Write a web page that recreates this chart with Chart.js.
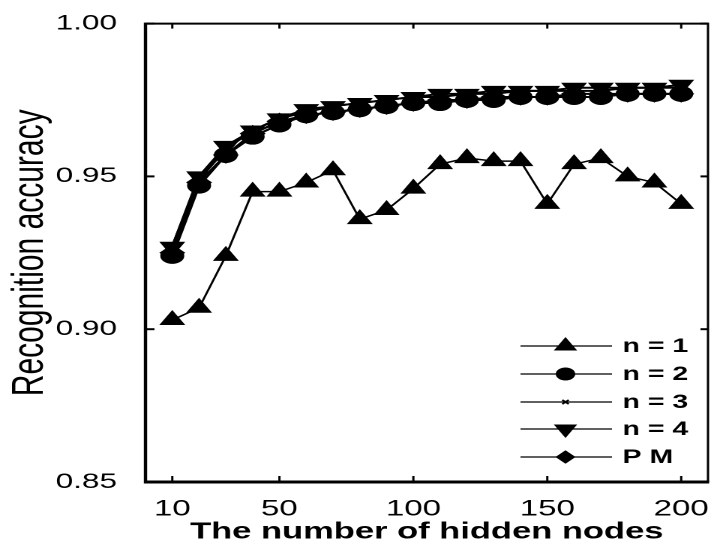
<!DOCTYPE html>
<html><head><meta charset="utf-8">
<script src="https://cdn.jsdelivr.net/npm/chart.js@4"></script>
<style>
html,body{margin:0;padding:0;background:#fff;overflow:hidden}
#wrap{width:723px;height:546px;overflow:hidden;position:relative}
#c{position:absolute;left:0;top:0;transform-origin:0 0;transform:scaleX(1.5)}
</style>
</head><body>
<div id="wrap"><canvas id="c" width="482" height="546"></canvas></div>
<script>
const hiddenNodes = [10,20,30,40,50,60,70,80,90,100,110,120,130,140,150,160,170,180,190,200];
const accN1 = [0.903,0.907,0.924,0.945,0.945,0.948,0.952,0.936,0.939,0.946,0.954,0.956,0.955,0.955,0.941,0.954,0.956,0.950,0.948,0.941];
const accN2 = [0.924,0.947,0.957,0.963,0.967,0.970,0.971,0.972,0.973,0.974,0.974,0.975,0.975,0.976,0.976,0.976,0.976,0.977,0.977,0.977];
const accN3 = [0.927,0.949,0.959,0.965,0.969,0.971,0.973,0.974,0.975,0.976,0.976,0.977,0.977,0.978,0.978,0.978,0.978,0.979,0.979,0.979];
const accN4 = [0.927,0.950,0.960,0.965,0.969,0.972,0.973,0.974,0.975,0.976,0.977,0.977,0.978,0.978,0.978,0.979,0.979,0.979,0.979,0.980];
const accPM = [0.925,0.948,0.957,0.964,0.968,0.970,0.971,0.972,0.973,0.974,0.975,0.975,0.976,0.976,0.976,0.977,0.977,0.977,0.977,0.977];
const seriesLabels = ['n = 1','n = 2','n = 3','n = 4','P M'];
const xTickValues = [10,50,100,150,200];
const yTickValues = [0.85,0.90,0.95,1.00];

const FONT = "'Liberation Sans', Arial, Helvetica, sans-serif";
const pts = arr => arr.map((v,i)=>({x:hiddenNodes[i], y:v}));

function ds(label, data, style, radius, width, rotation){
  return {label, data: pts(data), borderColor:'#000', backgroundColor:'#000',
    borderWidth: width, pointStyle: style, pointRadius: radius, pointHoverRadius: radius,
    pointRotation: rotation||0, pointBorderWidth: 1, pointBorderColor:'#000', pointBackgroundColor:'#000', tension:0};
}
const datasets = [
  ds(seriesLabels[0], accN1, 'triangle', 9, 1.5),
  ds(seriesLabels[1], accN2, 'circle', 7.5, 2),
  ds(seriesLabels[2], accN3, 'crossRot', 4, 2),
  ds(seriesLabels[3], accN4, 'triangle', 9, 2, 180),
  ds(seriesLabels[4], accPM, 'rectRot', 8, 2)
];
datasets[2].pointBorderWidth = 1.5;

function seg(ctx,x1,y1,x2,y2){ctx.beginPath();ctx.moveTo(x1,y1);ctx.lineTo(x2,y2);ctx.stroke();}

const framePlugin = {
  id:'frame',
  afterDatasetsDraw(chart){
    const {ctx, chartArea:{left,right,top,bottom}, scales:{x,y}} = chart;
    ctx.save();
    ctx.strokeStyle='#000';
    ctx.lineCap='butt';
    ctx.lineWidth=2; seg(ctx,left,top,right,top);
    ctx.lineWidth=1.5; seg(ctx,right,top-1,right,bottom);
    ctx.lineWidth=2.2; seg(ctx,left,top-1,left,bottom+1.5);
    ctx.lineWidth=3; seg(ctx,left-1,bottom,right+0.75,bottom);
    ctx.lineWidth=1.5;
    xTickValues.forEach(v=>{const px=x.getPixelForValue(v); seg(ctx,px,top,px,top+5); seg(ctx,px,bottom,px,bottom-6);});
    ctx.lineWidth=2;
    yTickValues.forEach(v=>{const py=y.getPixelForValue(v); seg(ctx,left,py,left+6,py); seg(ctx,right,py,right-5,py);});
    ctx.restore();
  }
};

const legendPlugin = {
  id:'lineLegend',
  afterDraw(chart){
    const ctx = chart.ctx;
    const rowsY = [346,374,402,429,457];
    const x1 = 347, x2 = 408, mx = 377, tx = 415;
    const legendRadius = [8, 6, 3, 8, 6];
    ctx.save();
    chart.data.datasets.forEach((d,i)=>{
      const yy = rowsY[i];
      ctx.strokeStyle='#000'; ctx.lineWidth=1.3;
      seg(ctx,x1,yy,x2,yy);
      const opts = {pointStyle:d.pointStyle, radius:legendRadius[i], rotation:d.pointRotation||0, borderWidth:d.pointBorderWidth};
      ctx.fillStyle='#000'; ctx.strokeStyle='#000'; ctx.lineWidth=d.pointBorderWidth;
      if (Chart.helpers && Chart.helpers.drawPoint) Chart.helpers.drawPoint(ctx, opts, mx, yy);
      ctx.fillStyle='#000';
      ctx.font = "bold 19px " + FONT;
      ctx.textAlign='left'; ctx.textBaseline='middle';
      ctx.fillText(d.label, tx, yy+1);
    });
    ctx.restore();
  }
};

new Chart(document.getElementById('c'), {
  type:'line',
  data:{datasets},
  options:{
    responsive:false, animation:false, devicePixelRatio:2,
    layout:{padding:{left:0,right:3,top:21,bottom:0}},
    plugins:{legend:{display:false}, tooltip:{enabled:false}},
    scales:{
      x:{type:'linear', min:0, max:210,
        afterBuildTicks: s => { s.ticks = xTickValues.map(v=>({value:v})); },
        afterFit: s => { s.height = 64; },
        grid:{display:false}, border:{display:false},
        ticks:{color:'#000', font:{family:FONT, size:22}, padding:6, maxRotation:0, autoSkip:false},
        title:{display:true, text:'The number of hidden nodes', color:'#000',
          font:{family:FONT, size:23, weight:'bold'}, padding:{top:0,bottom:0}}
      },
      y:{min:0.85, max:1.00,
        afterBuildTicks: s => { s.ticks = yTickValues.map(v=>({value:v})); },
        afterFit: s => { s.width = 97; },
        grid:{display:false}, border:{display:false},
        ticks:{color:'#000', font:{family:FONT, size:21}, padding:11, callback: v => Number(v).toFixed(2)},
        title:{display:true, text:'Recognition accuracy', color:'#000',
          font:{family:FONT, size:30}, padding:{top:2,bottom:0}}
      }
    }
  },
  plugins:[framePlugin, legendPlugin]
});
</script>
</body></html>
